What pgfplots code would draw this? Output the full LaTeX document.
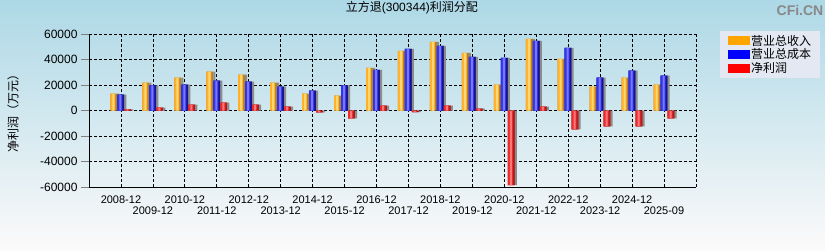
\documentclass[border=0pt]{standalone}
\usepackage{pgfplots}
\pgfplotsset{compat=1.18}
\usepackage{pgfplotstable}
\usepackage{fontspec}
\setmainfont{Liberation Sans}
\newfontfamily\cjk{Noto Sans CJK SC}

\definecolor{bgtop}{RGB}{173,216,230}
\definecolor{bgmid}{RGB}{214,232,240}
\definecolor{bgbot}{RGB}{252,250,250}
\definecolor{orD}{RGB}{176,128,48}
\definecolor{orM}{RGB}{255,176,40}
\definecolor{orH}{RGB}{255,215,110}
\definecolor{blD}{RGB}{20,20,140}
\definecolor{blM}{RGB}{50,50,240}
\definecolor{blH}{RGB}{120,120,255}
\definecolor{rdD}{RGB}{170,30,30}
\definecolor{rdM}{RGB}{240,40,40}
\definecolor{rdH}{RGB}{255,120,120}
\definecolor{shad}{RGB}{140,140,140}
\definecolor{legbg}{RGB}{228,232,242}
\definecolor{wmark}{RGB}{136,136,136}
\definecolor{legor}{RGB}{255,165,0}
\definecolor{legbl}{RGB}{0,0,255}
\definecolor{legrd}{RGB}{255,0,0}

\pgfplotstableread{
x rev cost np
0 13250 12470 800
1 21800 19740 2340
2 25700 20260 4700
3 30400 23400 6200
4 28050 22600 4700
5 21800 18700 3100
6 13250 15600 -1560
7 11700 19740 -6230
8 33500 31900 3900
9 46750 48300 -1300
10 53800 50650 3900
11 45200 42100 1560
12 20260 41300 -58600
13 56100 54550 3100
14 40500 49100 -14800
15 18700 25700 -12500
16 25700 31200 -12500
17 20260 27300 -6250
}\datatable

\begin{document}
\begin{tikzpicture}
\shade[top color=bgtop, middle color=bgmid, bottom color=bgbot] (0pt,0pt) rectangle (825pt,250pt);
\useasboundingbox (0pt,0pt) rectangle (825pt,250pt);
\node[font=\bfseries\fontsize{14}{14}\selectfont, text=wmark] at (800pt,240pt) {CFi.CN};
\begin{axis}[
  at={(89pt,63pt)}, anchor=south west,
  width=607pt, height=153pt, scale only axis,
  xmin=-1, xmax=18, ymin=-60000, ymax=60000,
  scaled y ticks=false,
  axis x line*=bottom, axis y line*=left,
  x axis line style={-, line width=0.9pt}, y axis line style={-, line width=0.9pt},
  tick align=outside,
  major tick length=8pt,
  ytick={-60000,-40000,-20000,0,20000,40000,60000},
  yticklabels={-60000,-40000,-20000,0,20000,40000,60000},
  yticklabel style={font=\fontsize{12}{12}\selectfont},
  xtick={0,2,4,6,8,10,12,14,16},
  xticklabels={2008-12,2010-12,2012-12,2014-12,2016-12,2018-12,2020-12,2022-12,2024-12},
  xtick style={draw=none},
  xticklabel style={font=\fontsize{11}{11}\selectfont, yshift=3pt},
  extra x ticks={1,3,5,7,9,11,13,15,17,18},
  extra x tick labels={2009-12,2011-12,2013-12,2015-12,2017-12,2019-12,2021-12,2023-12,2025-09,{}},
  extra x tick style={grid=major, major tick length=4pt, tick style={draw=black, line width=0.8pt}, tick label style={yshift=-15pt}},
  ymajorgrids, xmajorgrids,
  grid style={black, line width=0.7pt, dash pattern=on 3pt off 2pt},
  title={{\cjk 立方退}(300344){\cjk 利润分配}},
  title style={at={(axis description cs:0.532,1.13)}, anchor=center, font=\fontsize{12}{12}\selectfont},
  ylabel={\cjk 净利润（万元）},
  ylabel style={at={(axis description cs:-0.125,0.5)}, anchor=center, font=\fontsize{12}{12}\selectfont},
  legend style={at={(axis description cs:1.0395,1.0196)}, anchor=north west, draw=none, fill=legbg,
    font=\cjk\fontsize{12}{13}\selectfont, inner xsep=8pt, inner ysep=3pt, row sep=0pt,
    nodes={inner sep=1pt}},
  legend cell align=left,
]
% legend-carrying base bars
\addplot[ybar, bar width=7pt, bar shift=-7pt, draw=none, fill=orD,
  legend image code/.code={\fill[legor] (0pt,-4.5pt) rectangle (22pt,4.5pt);}]
  table[x=x,y=rev]{\datatable};
\addlegendentry{营业总收入}
\addplot[ybar, bar width=7pt, bar shift=0pt, draw=none, fill=blD,
  legend image code/.code={\fill[legbl] (0pt,-4.5pt) rectangle (22pt,4.5pt);}]
  table[x=x,y=cost]{\datatable};
\addlegendentry{营业总成本}
\addplot[ybar, bar width=7pt, bar shift=7pt, draw=none, fill=rdD,
  legend image code/.code={\fill[legrd] (0pt,-4.5pt) rectangle (22pt,4.5pt);}]
  table[x=x,y=np]{\datatable};
\addlegendentry{净利润}
% shadows
\addplot[ybar, forget plot, bar width=2pt, bar shift=-2.5pt, draw=none, fill=shad] table[x=x,y=rev]{\datatable};
\addplot[ybar, forget plot, bar width=7pt, bar shift=0pt, draw=none, fill=blD] table[x=x,y=cost]{\datatable};
\addplot[ybar, forget plot, bar width=2pt, bar shift=4.5pt, draw=none, fill=shad] table[x=x,y=cost]{\datatable};
\addplot[ybar, forget plot, bar width=7pt, bar shift=7pt, draw=none, fill=rdD] table[x=x,y=np]{\datatable};
\addplot[ybar, forget plot, bar width=2pt, bar shift=11.5pt, draw=none, fill=shad] table[x=x,y=np]{\datatable};
% main tones
\addplot[ybar, forget plot, bar width=5pt, bar shift=-8pt, draw=none, fill=orM] table[x=x,y=rev]{\datatable};
\addplot[ybar, forget plot, bar width=5pt, bar shift=-1pt, draw=none, fill=blM] table[x=x,y=cost]{\datatable};
\addplot[ybar, forget plot, bar width=5pt, bar shift=6pt, draw=none, fill=rdM] table[x=x,y=np]{\datatable};
% highlights
\addplot[ybar, forget plot, bar width=2pt, bar shift=-7.5pt, draw=none, fill=orH] table[x=x,y=rev]{\datatable};
\addplot[ybar, forget plot, bar width=2pt, bar shift=-0.5pt, draw=none, fill=blH] table[x=x,y=cost]{\datatable};
\addplot[ybar, forget plot, bar width=2pt, bar shift=6.5pt, draw=none, fill=rdH] table[x=x,y=np]{\datatable};
\end{axis}
\end{tikzpicture}
\end{document}
